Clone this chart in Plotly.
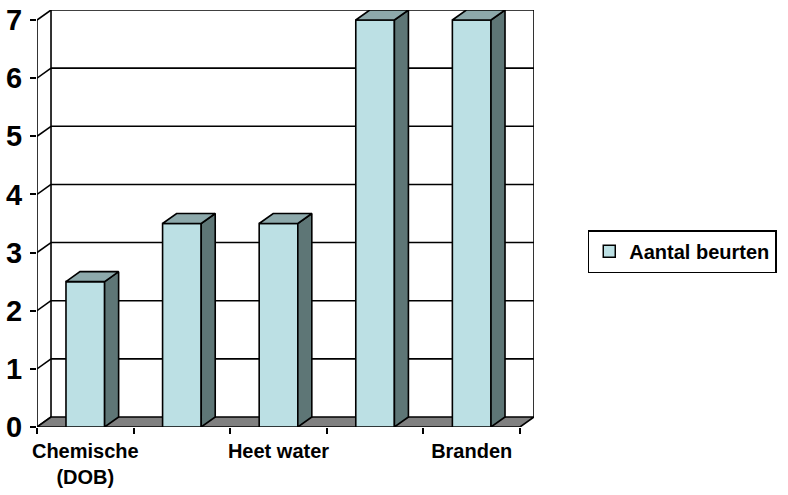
import plotly.graph_objects as go

# Data
categories = ["Chemische<br>(DOB)", "", "Heet water", "", "Branden"]
values = [2.5, 3.5, 3.5, 7, 7]
series_name = "Aantal beurten"
y_ticks = [0, 1, 2, 3, 4, 5, 6, 7]

# 3D look: depth offset of walls and columns, in axis units
DX, DY = 0.145, 0.172
BAR_W = 0.40
N = len(categories)
YMAX = max(y_ticks)

FONT = "Liberation Sans, Arial, sans-serif"
FRONT = "#BCE0E4"
SIDE = "#5E7676"
TOP = "#8DA9AB"
FLOOR = "#808080"
LINE = dict(color="black", width=1.6)

fig = go.Figure()


def poly(xs, ys, fill):
    fig.add_trace(go.Scatter(
        x=xs + [xs[0]], y=ys + [ys[0]], mode="lines", fill="toself",
        fillcolor=fill, line=LINE, showlegend=False, hoverinfo="skip"))


def seg(xs, ys):
    fig.add_trace(go.Scatter(
        x=xs, y=ys, mode="lines", line=LINE, showlegend=False, hoverinfo="skip"))


# back wall gridlines and edges
for v in y_ticks[1:]:
    seg([DX, N + DX], [v + DY, v + DY])
seg([DX, DX], [DY, YMAX + DY])
seg([N + DX, N + DX], [DY, YMAX + DY])

# side wall diagonals and front value axis
for v in y_ticks:
    seg([0, DX], [v, v + DY])
seg([0, 0], [0, YMAX])

# floor
poly([0, N, N + DX, DX], [0, 0, DY, DY], FLOOR)

# columns: front, side and top faces
for i, v in enumerate(values):
    c = i + 0.5
    l, r = c - BAR_W / 2, c + BAR_W / 2
    poly([l, r, r, l], [0, 0, v, v], FRONT)
    poly([r, r + DX, r + DX, r], [v, v + DY, DY, 0], SIDE)
    poly([l, r, r + DX, l + DX], [v, v, v + DY, v + DY], TOP)

# legend entry
fig.add_trace(go.Scatter(
    x=[None], y=[None], mode="markers", name=series_name,
    marker=dict(symbol="square", size=12, color=FRONT,
                line=dict(color="black", width=1.5))))

# invisible trace to hold the category label axis
fig.add_trace(go.Scatter(x=[0.5], y=[0], xaxis="x2", mode="markers",
                         marker=dict(opacity=0), showlegend=False,
                         hoverinfo="skip"))

label_vals = [i + 0.5 for i, c in enumerate(categories) if c]
label_text = [c for c in categories if c]

fig.update_layout(
    width=788, height=495,
    margin=dict(l=37, r=254, t=10, b=68, autoexpand=False),
    paper_bgcolor="white", plot_bgcolor="white",
    font=dict(family=FONT, color="black"),
    xaxis=dict(range=[0, N + DX], showgrid=False, zeroline=False,
               showline=False, tickvals=list(range(N + 1)),
               showticklabels=False, ticks="outside", ticklen=6,
               tickwidth=1.6, tickcolor="black", automargin=False),
    xaxis2=dict(range=[0, N + DX], overlaying="x", anchor="y",
                side="bottom", showgrid=False, zeroline=False,
                showline=False, ticks="", tickvals=label_vals,
                ticktext=label_text, ticklabelstandoff=10,
                automargin=False,
                tickfont=dict(size=20, family=FONT, weight="bold")),
    yaxis=dict(range=[0, YMAX + DY], showgrid=False, zeroline=False,
               showline=False, tickvals=y_ticks, ticks="outside",
               ticklen=6, tickwidth=1.6, tickcolor="black",
               ticklabelstandoff=2, automargin=False,
               tickfont=dict(size=29, family=FONT, weight="bold")),
    legend=dict(x=1.108, y=0.472, xanchor="left", yanchor="top",
                bordercolor="black", borderwidth=1.6, bgcolor="white",
                itemwidth=30,
                font=dict(size=20, family=FONT, weight="bold")),
    showlegend=True,
)

fig.write_html("out.html")
